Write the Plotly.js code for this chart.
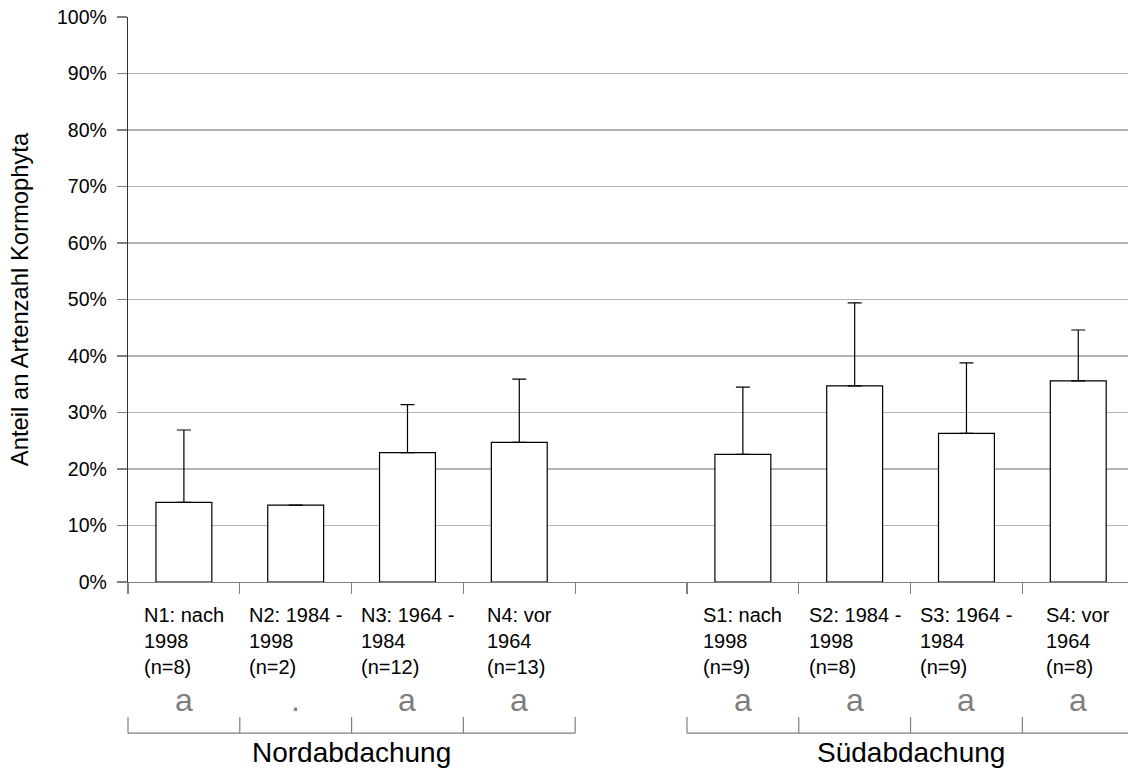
<!DOCTYPE html>
<html>
<head>
<meta charset="utf-8">
<script src="https://cdn.plot.ly/plotly-3.0.1.min.js"></script>
<style>
  html, body { margin: 0; padding: 0; background: #ffffff; overflow: hidden; }
  #chart { width: 1128px; height: 769px; }
</style>
</head>
<body>
<div id="chart"></div>
<script>
// Site groups along the two slopes (N = north slope, S = south slope)
const codes   = ['N1', 'N2', 'N3', 'N4', 'S1', 'S2', 'S3', 'S4'];
const periods = ['nach<br>1998', '1984 -<br>1998', '1964 -<br>1984', 'vor<br>1964',
                 'nach<br>1998', '1984 -<br>1998', '1964 -<br>1984', 'vor<br>1964'];
const nPlots  = [8, 2, 12, 13, 9, 8, 9, 8];
// Mean share of vascular plant species (%) and mean + standard deviation (%)
const meanPct  = [14.1, 13.6, 22.9, 24.7, 22.6, 34.7, 26.3, 35.6];
const upperPct = [26.9, null, 31.4, 35.9, 34.5, 49.4, 38.8, 44.6];
// Letters of the significance test
const letters = ['a', '.', 'a', 'a', 'a', 'a', 'a', 'a'];
const groupNames = ['Nordabdachung', 'Südabdachung'];
const groupOf = [0, 0, 0, 0, 1, 1, 1, 1];

// Category slots: four north groups, one empty slot, four south groups
const slot = groupOf.map((g, i) => i + g);
const xRange = [-0.5, 8.445];
const FONT = '"Liberation Sans", Arial, sans-serif';

const yVals = meanPct.map(v => v / 100);
// NaN leaves a group without an error bar (N2 has only two plots)
const errPlus = upperPct.map((u, i) => u === null ? NaN : (u - meanPct[i]) / 100);
const errMinus = upperPct.map(() => 0);

const bars = {
  type: 'bar',
  x: slot,
  y: yVals,
  width: 0.5,
  marker: { color: '#ffffff', line: { color: '#000000', width: 1.2 } },
  error_y: {
    type: 'data', symmetric: false, array: errPlus, arrayminus: errMinus,
    color: '#000000', thickness: 1.2, width: 7
  },
  hoverinfo: 'skip'
};

const toPaperX = x => (x - xRange[0]) / (xRange[1] - xRange[0]);

const annotations = [];
const shapes = [];
slot.forEach((s, i) => {
  annotations.push({
    x: s, xref: 'x', y: 0, yref: 'paper', xanchor: 'center', yanchor: 'top',
    yshift: -20, align: 'left', showarrow: false,
    text: codes[i] + ': ' + periods[i] + '<br>(n=' + nPlots[i] + ')',
    font: { family: FONT, size: 20, color: '#000000' }
  });
  annotations.push({
    x: s, xref: 'x', y: 0, yref: 'paper', xanchor: 'center', yanchor: 'top',
    yshift: -98, showarrow: false, text: letters[i],
    font: { family: FONT, size: 32, color: '#7f7f7f' }
  });
});

// Brackets under each slope group with its name
groupNames.forEach((name, g) => {
  const members = slot.filter((s, i) => groupOf[i] === g);
  const left = Math.min(...members) - 0.5;
  const right = Math.max(...members) + 0.5;
  const yLine = -0.2675, yTick = -0.239;
  shapes.push({
    type: 'line', xref: 'paper', yref: 'paper',
    x0: toPaperX(left), x1: Math.min(1, toPaperX(right)), y0: yLine, y1: yLine,
    line: { color: '#808080', width: 1.2 }
  });
  for (let b = left; b <= right + 1e-9; b += 1) {
    if (toPaperX(b) > 1) break;
    shapes.push({
      type: 'line', xref: 'paper', yref: 'paper',
      x0: toPaperX(b), x1: toPaperX(b), y0: yLine, y1: yTick,
      line: { color: '#808080', width: 1.2 }
    });
  }
  annotations.push({
    x: (left + right) / 2, xref: 'x', y: 0, yref: 'paper', xanchor: 'center', yanchor: 'top',
    yshift: -153, showarrow: false, text: name,
    font: { family: FONT, size: 28, color: '#000000' }
  });
});

const boundaries = [];
for (let b = -0.5; b < xRange[1]; b += 1) boundaries.push(b);

const layout = {
  width: 1128, height: 769,
  margin: { l: 128, r: 0, t: 17, b: 187, pad: 0 },
  paper_bgcolor: '#ffffff', plot_bgcolor: '#ffffff',
  showlegend: false,
  font: { family: FONT, size: 19.5, color: '#000000' },
  xaxis: {
    range: xRange, tickmode: 'array', tickvals: boundaries, showticklabels: false,
    ticks: 'outside', ticklen: 11, tickcolor: '#808080', tickwidth: 1.2,
    showgrid: false, zeroline: false, showline: true, linecolor: '#808080', linewidth: 1.2,
    fixedrange: true
  },
  yaxis: {
    range: [0, 1], tickmode: 'linear', tick0: 0, dtick: 0.1, tickformat: '.0%',
    ticks: 'outside', ticklen: 10, tickcolor: '#808080', tickwidth: 1.2,
    ticklabelstandoff: 6,
    showgrid: true, gridcolor: '#b4b4b4', gridwidth: 1.2,
    zeroline: false, showline: true, linecolor: '#333333', linewidth: 1.2,
    tickfont: { family: FONT, size: 19.5, color: '#000000' },
    title: { text: 'Anteil an Artenzahl Kormophyta', standoff: 21,
             font: { family: FONT, size: 23.8, color: '#000000' } },
    fixedrange: true
  },
  annotations: annotations,
  shapes: shapes
};

Plotly.newPlot('chart', [bars], layout, { displayModeBar: false, staticPlot: true });
</script>
</body>
</html>
